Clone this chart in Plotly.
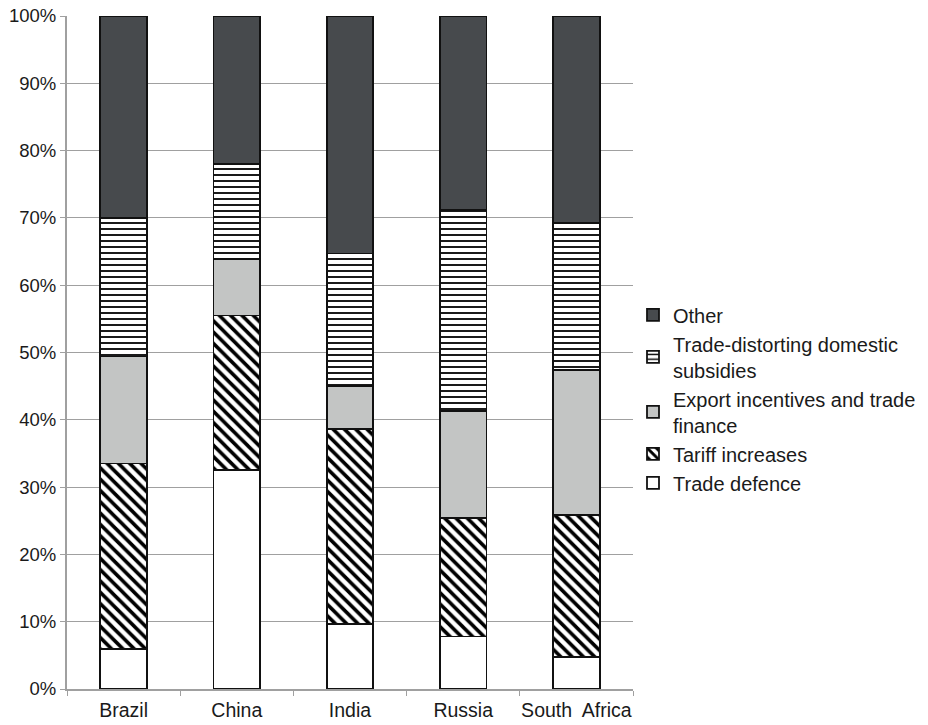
import plotly.graph_objects as go

countries = ["Brazil", "China", "India", "Russia", "South  Africa"]
trade_defence = [5.9, 32.5, 9.7, 7.8, 4.8]
tariff_increases = [27.6, 23.0, 28.9, 17.6, 21.0]
export_incentives = [15.9, 8.4, 6.4, 15.9, 21.6]
domestic_subsidies = [20.6, 14.1, 19.7, 29.9, 21.9]
other = [30.0, 22.0, 35.3, 28.8, 30.7]
tick_values = list(range(0, 101, 10))
tick_labels = [f"{v}%" for v in tick_values]

series = [
    ("Trade defence", trade_defence, dict(color="white")),
    ("Tariff increases", tariff_increases,
     dict(color="white", pattern=dict(shape="\\", fgcolor="black", bgcolor="white",
                                      fgopacity=1, size=8, solidity=0.45))),
    ("Export incentives and trade<br>finance", export_incentives, dict(color="#c3c5c4")),
    ("Trade-distorting domestic<br>subsidies", domestic_subsidies,
     dict(color="white", pattern=dict(shape="-", fgcolor="black", bgcolor="white",
                                      fgopacity=1, size=6, solidity=0.3))),
    ("Other", other, dict(color="#474a4d")),
]

fig = go.Figure()
for name, vals, mk in series:
    mk = dict(mk)
    mk["line"] = dict(color="#111111", width=1.8)
    fig.add_trace(go.Bar(x=countries, y=vals, name=name, marker=mk))

# The page has an 8px body margin, so the figure is 920x717 placed at (8, 8).
FONT = "Liberation Sans, Arial, sans-serif"
fig.update_layout(
    barmode="stack",
    bargap=0.59,
    width=920, height=717,
    margin=dict(l=59, r=295, t=8, b=36, autoexpand=False),
    plot_bgcolor="white", paper_bgcolor="white",
    font=dict(family=FONT, size=19.5, color="#1a1a1a"),
    legend=dict(x=1.0, y=0.585, xanchor="left", yanchor="top", traceorder="reversed",
                font=dict(size=20), itemwidth=30, bgcolor="rgba(0,0,0,0)"),
    xaxis=dict(showline=True, linecolor="#a0a0a0", linewidth=2, ticks="outside", ticklen=5,
               tickcolor="#a0a0a0", tickson="boundaries", showgrid=False, tickangle=0,
               automargin=False, ticklabelstandoff=3, ticklabeloverflow="allow"),
    yaxis=dict(range=[0, 100], tickvals=tick_values, ticktext=tick_labels,
               tickfont=dict(size=18.5),
               showline=True, linecolor="#a0a0a0", linewidth=2, ticks="outside", ticklen=5,
               tickcolor="#a0a0a0", gridcolor="#a0a0a0", gridwidth=1.2, zeroline=False,
               automargin=False, ticklabeloverflow="allow"),
)
fig.write_html("out.html")
